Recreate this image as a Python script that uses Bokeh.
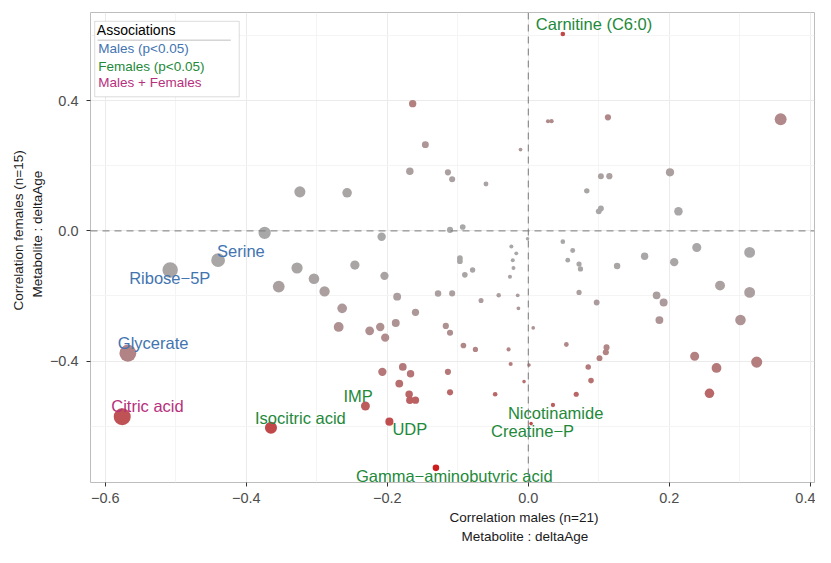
import numpy as np
from bokeh.plotting import figure
from bokeh.models import (ColumnDataSource, LinearColorMapper, FixedTicker, Span,
                          CustomJSTickFormatter, Title, BoxAnnotation, Label, Range1d)
from bokeh.transform import transform
from bokeh.core.properties import value
from bokeh.embed import file_html
from bokeh.resources import INLINE

# ---------------- data ----------------
# unlabelled metabolites: correlation with deltaAge in males (x) and females (y)
corr_males = [
    -0.164, -0.146, -0.168, -0.114, -0.108, -0.060, -0.011, 0.028, 0.033, 0.113,
    0.358, 0.103, 0.115, 0.201, 0.083, 0.103, 0.100, 0.213, -0.324, -0.257,
    -0.374, -0.328, -0.304, -0.354, -0.289, -0.264, -0.208, -0.111, -0.093, -0.001,
    -0.024, -0.017, -0.022, -0.021, -0.026, -0.097, -0.097, -0.079, -0.090, -0.246,
    -0.204, -0.186, -0.160, -0.128, -0.108, -0.067, -0.042, -0.015, -0.014, 0.049,
    0.063, 0.056, 0.072, 0.074, 0.126, 0.165, 0.207, 0.239, 0.314, 0.072,
    0.097, 0.182, 0.192, 0.272, 0.314, 0.186, 0.301, 0.054, 0.111, 0.110,
    0.101, 0.085, 0.089, 0.068, 0.236, 0.267, 0.324, 0.257, -0.269, -0.225,
    -0.210, -0.188, -0.203, -0.117, -0.111, 0.007, -0.092, -0.075, -0.028, -0.207,
    -0.178, -0.167, -0.114, -0.025, 0.001, -0.183, -0.006, -0.169, -0.168, -0.160,
    -0.111, -0.047,
]
corr_females = [
    0.391, 0.265, 0.183, 0.180, 0.159, 0.144, 0.250, 0.337, 0.337, 0.349,
    0.343, 0.168, 0.168, 0.180, 0.123, 0.069, 0.060, 0.060, 0.120, 0.117,
    -0.006, -0.114, -0.147, -0.171, -0.186, -0.238, -0.018, 0.003, 0.012, -0.024,
    -0.048, -0.069, -0.090, -0.114, -0.141, -0.084, -0.093, -0.120, -0.135, -0.105,
    -0.138, -0.202, -0.250, -0.192, -0.192, -0.214, -0.198, -0.198, -0.238, -0.033,
    -0.060, -0.090, -0.102, -0.117, -0.108, -0.078, -0.096, -0.051, -0.066, -0.189,
    -0.220, -0.198, -0.220, -0.168, -0.189, -0.274, -0.274, -0.349, -0.358, -0.373,
    -0.391, -0.418, -0.460, -0.502, -0.385, -0.421, -0.403, -0.499, -0.295, -0.307,
    -0.295, -0.283, -0.328, -0.292, -0.313, -0.298, -0.352, -0.364, -0.364, -0.433,
    -0.418, -0.439, -0.433, -0.409, -0.412, -0.469, -0.463, -0.502, -0.520, -0.520,
    -0.496, -0.502,
]

# labelled metabolites
label_names = ["Carnitine (C6:0)", "Serine", "Ribose\u22125P", "Glycerate", "Citric acid",
               "Isocitric acid", "IMP", "UDP", "Nicotinamide", "Creatine\u2212P",
               "Gamma\u2212aminobutyric acid"]
label_males = [0.049, -0.440, -0.508, -0.568, -0.576, -0.365, -0.231, -0.197, 0.035, 0.004, -0.131]
label_females = [0.605, -0.090, -0.120, -0.376, -0.571, -0.605, -0.538, -0.586, -0.535, -0.592, -0.728]
label_assoc = ["Females", "Males", "Males", "Males", "Males + Females", "Females",
               "Females", "Females", "Females", "Females", "Females"]

legend_entries = ["Males (p<0.05)", "Females (p<0.05)", "Males + Females"]

x_ticks = [-0.6, -0.4, -0.2, 0.0, 0.2, 0.4]
y_ticks = [-0.4, 0.0, 0.4]

# ---------------- styles ----------------
FONT = "Liberation Sans"
assoc_colors = {"Males": "#4274B0", "Females": "#23893A", "Males + Females": "#B7307D"}
# label offsets in screen pixels (dx, dy)
label_dx = [-27, -1, -41, -10, -11, -16, -22, 3, -45, -40, -80]
label_dy = [-10, -9, 8, -10, -11, -10, -10, 7, 8, 7, 8]

all_x = np.array(corr_males + label_males)
all_y = np.array(corr_females + label_females)

# gray -> red palette
g = np.array([169, 168, 168]); r = np.array([204, 28, 30])
palette = ["#%02x%02x%02x" % tuple(int(round(c)) for c in (g + (r - g) * t))
           for t in np.linspace(0, 1, 256)]
mapper = LinearColorMapper(palette=palette, low=0.0, high=0.73 ** 2)

src = ColumnDataSource(dict(
    x=all_x, y=all_y,
    y2=all_y ** 2,
    size=3.5 + 23.5 * np.abs(all_x),
))

p = figure(width=815, height=547, output_backend="svg", toolbar_location=None,
           x_range=Range1d(-0.621, 0.406), y_range=Range1d(-0.773, 0.671),
           min_border_left=90, min_border_right=1, min_border_top=12, min_border_bottom=65)
p.background_fill_color = "white"
p.outline_line_color = "#BDBDBD"
p.outline_line_width = 1

# axes / grid
for ax, ticks, minor, so in ((p.xaxis, x_ticks, [-0.5, -0.3, -0.1, 0.1, 0.3], 6),
                             (p.yaxis, y_ticks, [-0.6, -0.2, 0.2, 0.6], 8)):
    ax.ticker = FixedTicker(ticks=ticks, minor_ticks=minor)
    ax.formatter = CustomJSTickFormatter(code="return tick.toFixed(1).replace('-', '\u2212');")
    ax.axis_line_color = None
    ax.major_tick_line_color = "#333333"
    ax.major_tick_out = 4
    ax.major_tick_in = 0
    ax.minor_tick_line_color = None
    ax.major_label_text_font = FONT
    ax.major_label_text_font_size = "14.5px"
    ax.major_label_text_color = "#4D4D4D"
    ax.major_label_standoff = so
p.xgrid.grid_line_color = "#EBEBEB"
p.ygrid.grid_line_color = "#EBEBEB"
p.xgrid.minor_grid_line_color = "#F4F4F4"
p.ygrid.minor_grid_line_color = "#F4F4F4"

# zero lines
p.add_layout(Span(location=0, dimension="height", line_color="#7A7A7A", line_dash="7 5", line_width=1))
p.add_layout(Span(location=0, dimension="width", line_color="#7A7A7A", line_dash="7 5", line_width=1))

# points
p.scatter("x", "y", source=src, size="size", marker="circle",
          fill_color=transform("y2", mapper), line_color=None, fill_alpha=1.0)

# labels
lsrc = ColumnDataSource(dict(
    x=label_males, y=label_females, text=label_names,
    color=[assoc_colors[a] for a in label_assoc],
    dx=label_dx, dy=label_dy,
))
p.text("x", "y", text="text", source=lsrc, text_color="color", x_offset="dx", y_offset="dy",
       text_font=value(FONT), text_font_size="16.5px", text_align="left",
       text_baseline="middle")

# axis titles (offset so they sit as in the original)
tstyle = dict(text_font=FONT, text_font_size="13.5px", text_font_style="normal",
              text_color="#1A1A1A")
p.add_layout(Title(text="Correlation males (n=21)", align="left", offset=359,
                   standoff=4, **tstyle), "below")
p.add_layout(Title(text="Metabolite : deltaAge", align="left", offset=371,
                   standoff=0, **tstyle), "below")
p.add_layout(Title(text="Metabolite : deltaAge", align="left", offset=185,
                   standoff=4, **tstyle), "left")
p.add_layout(Title(text="Correlation females (n=15)", align="left", offset=172,
                   standoff=0, **tstyle), "left")

# legend box (annotation)
p.add_layout(BoxAnnotation(left=-0.615, right=-0.410, top=0.644, bottom=0.412,
                           fill_color="white", fill_alpha=1.0,
                           line_color="#8C8C8C", line_width=1))
p.add_layout(BoxAnnotation(left=-0.611, right=-0.422, top=0.586, bottom=0.586,
                           fill_alpha=0, line_color="#8C8C8C", line_width=1))
p.add_layout(Label(x=-0.612, y=0.617, text="Associations", text_font=FONT,
                   text_font_size="14px", text_color="#000000", text_baseline="middle"))
for txt, yy, key in zip(legend_entries, [0.560, 0.505, 0.457],
                        ["Males", "Females", "Males + Females"]):
    p.add_layout(Label(x=-0.610, y=yy, text=txt, text_font=FONT, text_font_size="13.5px",
                       text_color=assoc_colors[key], text_baseline="middle"))

open("out.html", "w").write(file_html(p, INLINE))
